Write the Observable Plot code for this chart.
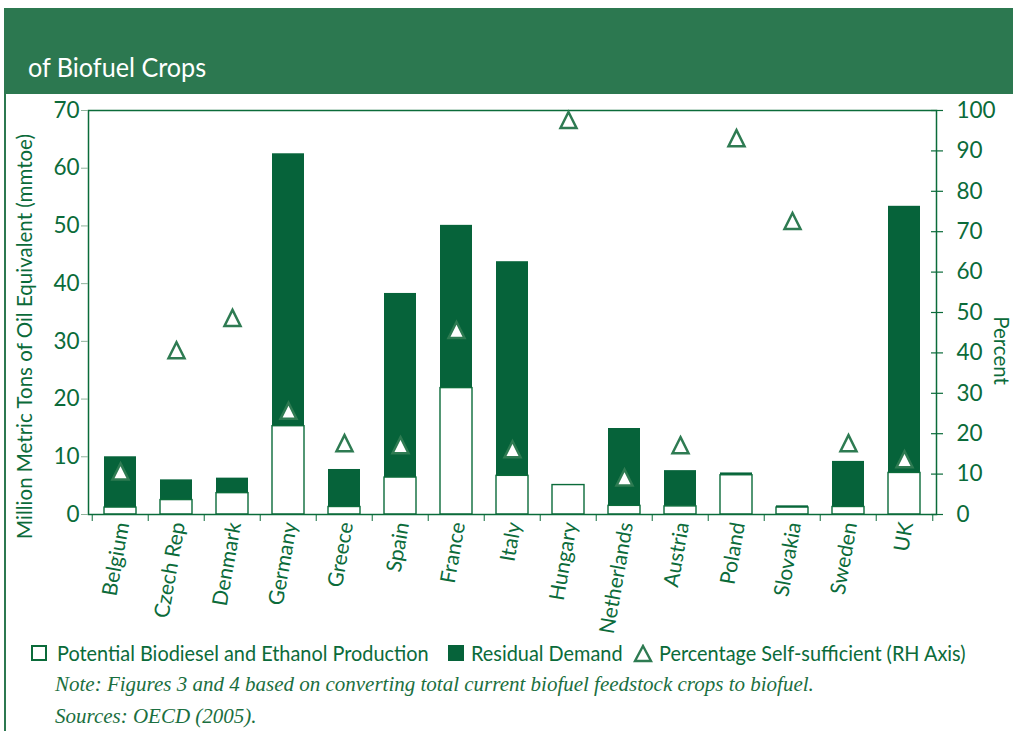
<!DOCTYPE html>
<html>
<head>
<meta charset="utf-8">
<script src="https://cdn.jsdelivr.net/npm/d3@7"></script>
<script src="https://cdn.jsdelivr.net/npm/@observablehq/plot@0.6"></script>
<style>
  html, body { margin: 0; padding: 0; background: #ffffff; }
  #page { position: relative; width: 1013px; height: 731px; overflow: hidden; background: #ffffff; }
  .band { position: absolute; left: 4px; top: 8px; width: 1009px; height: 86px; background: #2c7850; }
  .rail { position: absolute; left: 4px; top: 94px; width: 2px; height: 637px; background: #2c7850; }
  .title { position: absolute; left: 28px; top: 52px; color: #ffffff; font-family: "Lato", sans-serif; font-size: 26.5px; line-height: 30px; white-space: nowrap; transform: scaleX(0.95); transform-origin: left center; }
  #chart { position: absolute; left: 0; top: 94px; }
  .leg { position: absolute; top: 641px; font-family: "Lato", sans-serif; font-size: 21.5px; line-height: 24px; color: #0b6b3a; white-space: nowrap; transform: scaleX(0.925); transform-origin: left center; }
  .swatch { position: absolute; top: 645px; width: 16px; height: 16px; box-sizing: border-box; }
  .note { position: absolute; left: 55px; font-family: "Liberation Serif", serif; font-style: italic; font-size: 21px; color: #1b6f40; white-space: nowrap; }
</style>
</head>
<body>
<div id="page">
  <div class="band"></div>
  <div class="rail"></div>
  <div class="title">of Biofuel Crops</div>
  <div id="chart"></div>

  <div class="swatch" style="left:31px; border:2px solid #0b6b3a; background:#fff;"></div>
  <div class="leg" style="left:57px;">Potential Biodiesel and Ethanol Production</div>
  <div class="swatch" style="left:448px; background:#06633a;"></div>
  <div class="leg" style="left:471px;">Residual Demand</div>
  <svg style="position:absolute; left:633px; top:644px;" width="20" height="19">
    <polygon points="10,2 18,17 2,17" fill="none" stroke="#2e7b52" stroke-width="2.4"></polygon>
  </svg>
  <div class="leg" style="left:659px;">Percentage Self-sufficient (RH Axis)</div>

  <div class="note" style="top:672px;">Note: Figures 3 and 4 based on converting total current biofuel feedstock crops to biofuel.</div>
  <div class="note" style="top:704px;">Sources: OECD (2005).</div>
</div>
<script>
// Countries along the x axis
const countries = ["Belgium", "Czech Rep", "Denmark", "Germany", "Greece", "Spain", "France", "Italy",
  "Hungary", "Netherlands", "Austria", "Poland", "Slovakia", "Sweden", "UK"];
// Potential biodiesel and ethanol production (mmtoe)
const potential = [1.2, 2.5, 3.7, 15.3, 1.3, 6.4, 21.9, 6.7, 5.1, 1.5, 1.4, 6.8, 1.2, 1.3, 7.2];
// Residual demand stacked on top of production (mmtoe)
const residual = [8.8, 3.5, 2.6, 47.2, 6.5, 31.9, 28.2, 37.1, 0, 13.4, 6.2, 0.4, 0.3, 7.9, 46.2];
// Percentage self-sufficient (right-hand axis)
const selfSufficient = [10, 40, 48, 25, 17, 16.5, 45, 15.5, 97, 8.5, 16.5, 92.5, 72, 17, 13];
// Axis ticks
const leftTicks = [0, 10, 20, 30, 40, 50, 60, 70];
const rightTicks = [0, 10, 20, 30, 40, 50, 60, 70, 80, 90, 100];

const textGreen = "#0b6b3a";
const barGreen = "#06633a";
const markerGreen = "#2e7b52";

const leftMax = 70, rightMax = 100;
const toLeft = p => p * leftMax / rightMax;   // percent -> left-axis units

const rows = countries.map((c, i) => ({
  country: c,
  potential: potential[i],
  total: potential[i] + residual[i],
  pct: selfSufficient[i]
}));

// Triangle with its centroid at the origin (height = width = 2r)
const triangle = {
  draw(context, size) {
    const r = Math.sqrt(size / Math.PI);
    context.moveTo(0, -r * 4 / 3);
    context.lineTo(r, r * 2 / 3);
    context.lineTo(-r, r * 2 / 3);
    context.closePath();
  }
};

const width = 1013, marginLeft = 88, marginRight = 77;
const step = (width - marginLeft - marginRight) / countries.length;
const blank = () => "";

const chart = Plot.plot({
  width,
  height: 545,
  marginTop: 16,
  marginLeft,
  marginRight,
  marginBottom: 125,
  x: {domain: countries, paddingInner: 0.42, paddingOuter: 0.21},
  y: {domain: [0, leftMax]},
  style: {fontFamily: "Lato, sans-serif", color: textGreen, background: "transparent", overflow: "visible"},
  marks: [
    Plot.barY(rows, {x: "country", y1: "potential", y2: "total", fill: barGreen}),
    Plot.barY(rows, {x: "country", y1: 0, y2: "potential", fill: "white", stroke: textGreen, strokeWidth: 1.4}),
    Plot.frame({stroke: textGreen, strokeWidth: 1.5}),
    Plot.dot(rows, {x: "country", y: d => toLeft(d.pct), symbol: triangle, r: 8,
      fill: "white", stroke: markerGreen, strokeWidth: 2.5, strokeLinejoin: "miter"}),
    // left axis: light tick marks, then the numbers
    Plot.axisY(leftTicks, {anchor: "left", tickSize: 7, tickFormat: blank, label: null, stroke: "#8fb39b"}),
    Plot.axisY(leftTicks, {anchor: "left", tickSize: 0, tickPadding: 9, fontSize: 22.5, label: null, fill: textGreen}),
    // right axis (percent): ticks crossing the axis line, then the numbers
    Plot.axisY(rightTicks.map(toLeft), {anchor: "right", tickSize: 12, dx: -6, tickFormat: blank, label: null,
      stroke: textGreen, strokeWidth: 1.2}),
    Plot.axisY(rightTicks.map(toLeft), {anchor: "right", tickSize: 0, tickPadding: 20, fontSize: 22.5, label: null,
      fill: textGreen, tickFormat: d => Math.round(d * rightMax / leftMax)}),
    // category separators on the x axis
    Plot.axisX(countries, {anchor: "bottom", tickSize: 7, dx: -step / 2, tickFormat: blank, label: null, stroke: textGreen}),
    Plot.axisX([countries[countries.length - 1]], {anchor: "bottom", tickSize: 7, dx: step / 2, tickFormat: blank,
      label: null, stroke: textGreen}),
    Plot.axisX(countries, {anchor: "bottom", tickSize: 0, tickPadding: 8, tickRotate: -80, dx: 2, fontSize: 21,
      label: null, fill: textGreen}),
    // axis titles
    Plot.text(["Million Metric Tons of Oil Equivalent (mmtoe)"], {frameAnchor: "left", textAnchor: "middle",
      dx: -63, dy: 24, rotate: -90, fontSize: 20.5, fill: textGreen}),
    Plot.text(["Percent"], {frameAnchor: "right", textAnchor: "middle", dx: 64, dy: 38, rotate: 90,
      fontSize: 20.5, fill: textGreen})
  ]
});

document.getElementById("chart").appendChild(chart);
</script>
</body>
</html>
